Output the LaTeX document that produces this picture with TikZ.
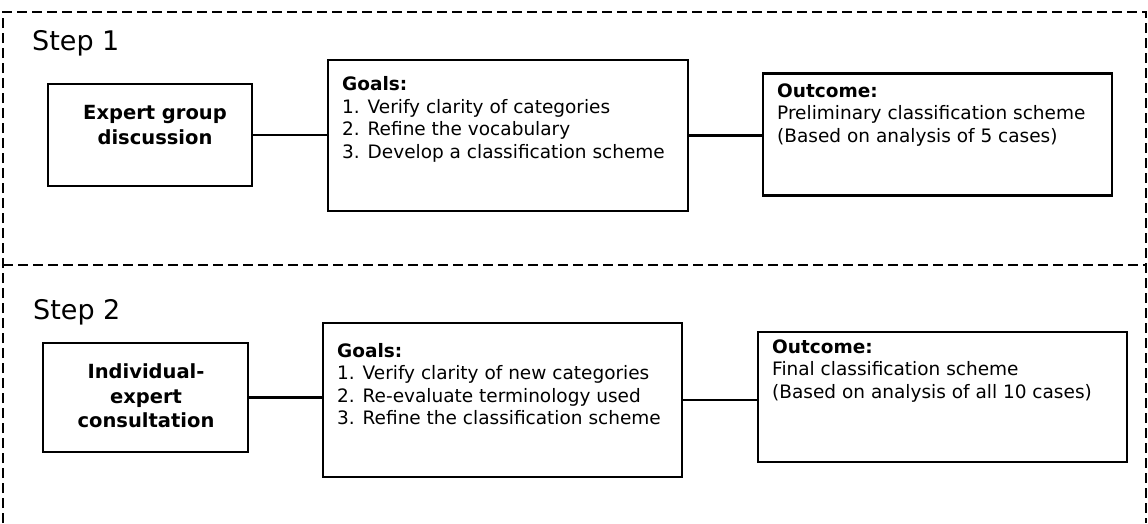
\documentclass[tikz,border=0pt]{standalone}
\usepackage{fontspec}
\setmainfont{DejaVu Sans}

\begin{document}
\begin{tikzpicture}[x=1pt, y=-1pt,
    stagebox/.style={draw=black, line width=2.2pt, inner sep=0pt},
    headtext/.style={font=\fontsize{19.5}{24.5}\selectfont\bfseries, align=center, inner sep=0pt},
    listtext/.style={font=\fontsize{18.5}{22.5}\selectfont, align=left, anchor=base west, inner sep=0pt},
    steptext/.style={font=\fontsize{27}{30}\selectfont, anchor=base west, inner sep=0pt},
    frameline/.style={line width=1.6pt, dash pattern=on 10pt off 5pt},
    link/.style={line width=2.2pt}]
    \useasboundingbox (0,0) rectangle (1148,523);
    % dashed frame round the two steps
    \draw [frameline] (3,523) -- (3,12) -- (1146,12) -- (1146,523);
    \draw [frameline] (3,265) -- (1146,265);
    % step 1 (text nodes sit on the baseline of their last line)
    \node [steptext] (stepone) at (32,50) {Step 1};
    \node [stagebox, minimum width=204pt, minimum height=102pt] (expert) at (150,135) {};
    \node [headtext] (expertlabel) at (155,125) {Expert group\\discussion};
    \node [stagebox, minimum width=360pt, minimum height=151pt] (goalsA) at (508,135.5) {};
    \node [listtext] (goalsAtext) at (342,158) {{\bfseries Goals:}\\1. Verify clarity of categories\\2. Refine the vocabulary\\3. Develop a classification scheme};
    \node [stagebox, minimum width=349pt, minimum height=122pt] (outcomeA) at (937.5,134.5) {};
    \node [listtext] (outcomeAtext) at (777,142) {{\bfseries Outcome:}\\Preliminary classification scheme\\(Based on analysis of 5 cases)};
    \draw [link] (expert.east) -- (expert.east -| goalsA.west);
    \draw [link] (goalsA.east) -- (goalsA.east -| outcomeA.west);
    % step 2
    \node [steptext] (steptwo) at (33,319) {Step 2};
    \node [stagebox, minimum width=205pt, minimum height=109pt] (individual) at (145.5,397.5) {};
    \node [headtext] (individuallabel) at (146,396) {Individual-\\expert\\consultation};
    \node [stagebox, minimum width=359pt, minimum height=154pt] (goalsB) at (502.5,400) {};
    \node [listtext] (goalsBtext) at (337,424.5) {{\bfseries Goals:}\\1. Verify clarity of new categories\\2. Re-evaluate terminology used\\3. Refine the classification scheme};
    \node [stagebox, minimum width=369pt, minimum height=130pt] (outcomeB) at (942.5,397) {};
    \node [listtext] (outcomeBtext) at (772,398) {{\bfseries Outcome:}\\Final classification scheme\\(Based on analysis of all 10 cases)};
    \draw [link] (individual.east) -- (individual.east -| goalsB.west);
    \draw [link] (goalsB.east) -- (goalsB.east -| outcomeB.west);
\end{tikzpicture}
\end{document}
